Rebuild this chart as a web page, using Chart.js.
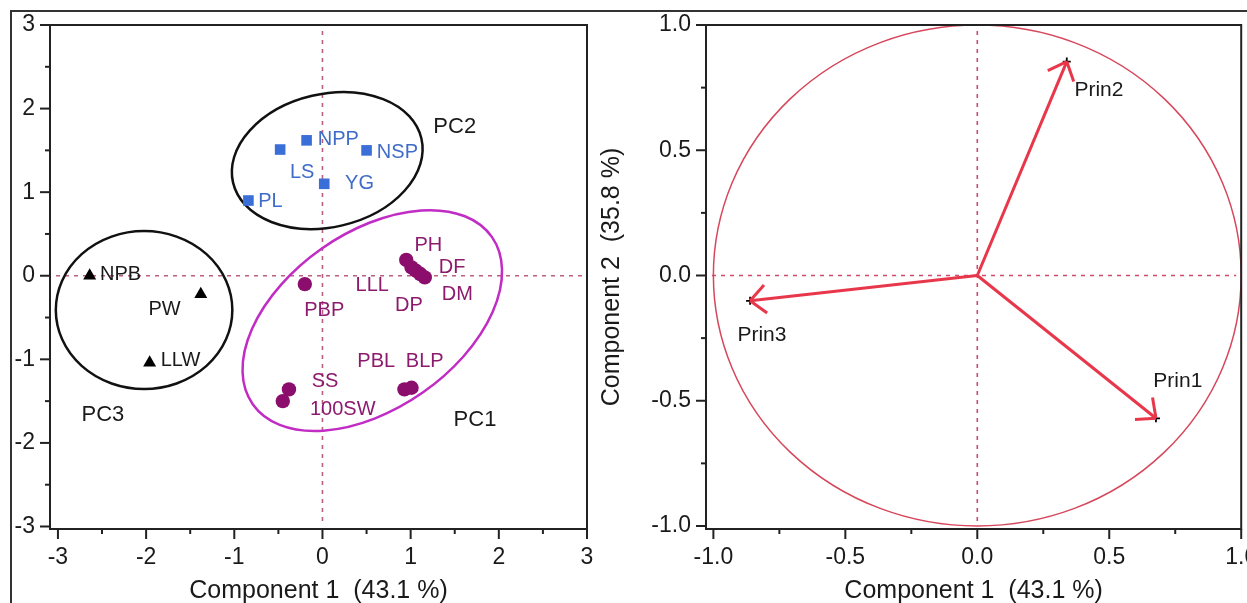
<!DOCTYPE html>
<html><head><meta charset="utf-8">
<script src="https://cdn.jsdelivr.net/npm/chart.js@4.4.0/dist/chart.umd.min.js"></script>
<style>
html,body{margin:0;padding:0;background:#fff;overflow:hidden;width:1247px;height:603px}
#frame{position:absolute;left:10px;top:10px;width:1300px;height:700px;border-left:2px solid #333;border-top:2px solid #333}
#c1{position:absolute;left:0;top:0}
#c2{position:absolute;left:600px;top:0}
</style></head><body>
<div id="frame"></div>
<canvas id="c1" width="600" height="603"></canvas>
<canvas id="c2" width="647" height="603"></canvas>
<script>
const FONT = "'Liberation Sans', Arial, Helvetica, sans-serif";
const INK = '#1a1a1a';

// ---------- Left panel: scores ----------
const pc2Names = ['PL','LS','NPP','NSP','YG'];
const pc2X = [-0.84,-0.48,-0.18,0.50,0.02];
const pc2Y = [0.90,1.51,1.62,1.50,1.10];

const pc3Names = ['NPB','PW','LLW'];
const pc3X = [-2.64,-1.38,-1.96];
const pc3Y = [0.00,-0.22,-1.04];

const pc1Names = ['PBP','PH','LLL','DF','DP','DM','SS','100SW','PBL','BLP'];
const pc1X = [-0.20,0.95,1.01,1.06,1.11,1.16,-0.38,-0.45,0.93,1.01];
const pc1Y = [-0.10,0.19,0.10,0.06,0.02,-0.02,-1.36,-1.50,-1.36,-1.34];

const leftTicks = [-3,-2,-1,0,1,2,3];
const leftMinor = [-2.5,-1.5,-0.5,0.5,1.5,2.5];

// text annotations (data coordinates)
const leftLabelText  = ['NPP','NSP','LS','YG','PL','PC2','NPB','PW','LLW','PC3','PH','DF','DM','LLL','DP','PBP','PBL','BLP','SS','100SW','PC1'];
const leftLabelX     = [0.18,0.85,-0.23,0.42,-0.59,1.50,-2.29,-1.79,-1.61,-2.49,1.20,1.47,1.53,0.565,0.98,0.02,0.61,1.16,0.03,0.23,1.73];
const leftLabelY     = [1.635,1.48,1.24,1.10,0.89,1.78,0.01,-0.40,-1.01,-1.66,0.36,0.10,-0.22,-0.12,-0.36,-0.42,-1.03,-1.03,-1.27,-1.60,-1.72];
const leftLabelGroup = ['b','b','b','b','b','k','k','k','k','k','p','p','p','p','p','p','p','p','p','p','k'];

// group ellipses: centre + two conjugate semi-axis vectors (data units)
const ellipseCenterX = [0.054,-2.023,0.565];
const ellipseCenterY = [1.378,-0.41,-0.536];
const ellipseU = [[1.068,0.264],[1.001,0],[1.356,1.001]];
const ellipseV = [[0.172,-0.775],[0,-0.945],[0.572,-0.862]];
const ellipseColor = ['#111111','#111111','#c02cc4'];

// ---------- Right panel: loadings ----------
const loadNames = ['Prin1','Prin2','Prin3'];
const loadX = [0.677,0.339,-0.861];
const loadY = [-0.570,0.854,-0.101];
const loadLabelX = [0.760,0.461,-0.816];
const loadLabelY = [-0.420,0.739,-0.237];

const rightTicks = [-1,-0.5,0,0.5,1];
const rightMinor = [-0.75,-0.25,0.25,0.75];

// ---------- plugins ----------
const refLines = {
  id:'refLines',
  beforeDatasetsDraw(chart, args, o){
    const {ctx, chartArea:a, scales:{x,y}} = chart;
    ctx.save();
    ctx.strokeStyle = o.color; ctx.lineWidth = 1.6; ctx.setLineDash(o.dash);
    const x0 = x.getPixelForValue(0), y0 = y.getPixelForValue(0);
    ctx.beginPath(); ctx.moveTo(a.left+6, y0); ctx.lineTo(a.right-5, y0); ctx.stroke();
    ctx.beginPath(); ctx.moveTo(x0, a.top+6); ctx.lineTo(x0, a.bottom-4); ctx.stroke();
    ctx.restore();
  }
};

const ellipses = {
  id:'ellipses',
  beforeDatasetsDraw(chart, args, o){
    if(!o.list) return;
    const {ctx, scales:{x,y}} = chart;
    const sx = x.getPixelForValue(1)-x.getPixelForValue(0);
    const sy = y.getPixelForValue(1)-y.getPixelForValue(0);
    o.list.forEach(e=>{
      ctx.save();
      ctx.beginPath();
      ctx.save();
      ctx.transform(e.u[0]*sx, e.u[1]*sy, e.v[0]*sx, e.v[1]*sy, x.getPixelForValue(e.cx), y.getPixelForValue(e.cy));
      ctx.arc(0,0,1,0,Math.PI*2);
      ctx.restore();
      ctx.strokeStyle = e.color; ctx.lineWidth = e.width;
      ctx.stroke();
      ctx.restore();
    });
  }
};

const labels = {
  id:'labels',
  afterDatasetsDraw(chart, args, o){
    if(!o.list) return;
    const {ctx, scales:{x,y}} = chart;
    ctx.save();
    ctx.textAlign='center'; ctx.textBaseline='middle';
    o.list.forEach(l=>{
      ctx.font = l.size+'px '+FONT;
      ctx.fillStyle = l.color;
      ctx.fillText(l.text, x.getPixelForValue(l.x), y.getPixelForValue(l.y));
    });
    ctx.restore();
  }
};

const arrowHeads = {
  id:'arrowHeads',
  afterDatasetsDraw(chart, args, o){
    if(!o.tipsX) return;
    const {ctx, scales:{x,y}} = chart;
    const ox = x.getPixelForValue(0), oy = y.getPixelForValue(0);
    ctx.save();
    ctx.strokeStyle = o.color; ctx.lineWidth = 3; ctx.lineCap='butt';
    o.tipsX.forEach((tx,i)=>{
      const px = x.getPixelForValue(tx), py = y.getPixelForValue(o.tipsY[i]);
      const back = Math.atan2(oy-py, ox-px);
      [-1,1].forEach(s=>{
        const ang = back + s*42*Math.PI/180;
        ctx.beginPath(); ctx.moveTo(px,py);
        ctx.lineTo(px+21*Math.cos(ang), py+21*Math.sin(ang)); ctx.stroke();
      });
    });
    ctx.restore();
  }
};

const unitCircle = {
  id:'unitCircle',
  beforeDatasetsDraw(chart, args, o){
    if(!o.draw) return;
    const {ctx, scales:{x,y}} = chart;
    const cx = x.getPixelForValue(0), cy = y.getPixelForValue(0);
    const rx = x.getPixelForValue(1)-cx, ry = cy - y.getPixelForValue(1);
    ctx.save();
    ctx.strokeStyle = o.color; ctx.lineWidth = 1.5;
    ctx.beginPath(); ctx.ellipse(cx,cy,rx,ry,0,0,Math.PI*2); ctx.stroke();
    ctx.restore();
  }
};

const frameTicks = {
  id:'frameTicks',
  afterDraw(chart, args, o){
    const {ctx, chartArea:a, scales:{x,y}} = chart;
    ctx.save();
    ctx.strokeStyle = '#222'; ctx.lineWidth = 2;
    ctx.strokeRect(a.left, a.top, a.right-a.left, a.bottom-a.top);
    const tick = (vals, len)=>{
      vals.forEach(v=>{
        const p = x.getPixelForValue(v);
        ctx.beginPath(); ctx.moveTo(p, a.bottom); ctx.lineTo(p, a.bottom+len); ctx.stroke();
      });
      vals.forEach(v=>{
        const p = y.getPixelForValue(v);
        ctx.beginPath(); ctx.moveTo(a.left, p); ctx.lineTo(a.left-len, p); ctx.stroke();
      });
    };
    tick(o.major, 10);
    tick(o.minor, 5);
    ctx.restore();
  }
};

function axis(min, max, ticks, fmt, fitFn, title){
  return {
    type:'linear', min, max,
    afterBuildTicks: s => { s.ticks = ticks.map(v=>({value:v})); },
    afterFit: fitFn,
    grid:{display:true, drawOnChartArea:false, drawTicks:true, tickLength:10, tickColor:'rgba(0,0,0,0)'},
    border:{display:false},
    ticks:{font:{family:FONT, size:23}, color:INK, padding:5, maxRotation:0, autoSkip:false, callback: fmt},
    title: title
  };
}

const common = {
  responsive:false, animation:false, devicePixelRatio:1, events:[],
};

// ---------- Left chart ----------
const pts = (xs, ys) => xs.map((v,i)=>({x:v, y:ys[i]}));
const colorFor = {b:'#3f6cc8', p:'#8c1a6e', k:INK};

new Chart(document.getElementById('c1'), {
  type:'scatter',
  data:{datasets:[
    {data:pts(pc2X,pc2Y), pointStyle:'rect', pointRadius:7.5, backgroundColor:'#3b6fd8', borderColor:'#3b6fd8', borderWidth:0},
    {data:pts(pc3X,pc3Y), pointStyle:'triangle', pointRadius:7.5, backgroundColor:'#000', borderColor:'#000', borderWidth:0},
    {data:pts(pc1X,pc1Y), pointStyle:'circle', pointRadius:7.2, backgroundColor:'#8b0d6c', borderColor:'#8b0d6c', borderWidth:0}
  ]},
  options:{...common,
    layout:{padding:{left:0, top:25, right:13, bottom:0}},
    scales:{
      x: axis(-3.09, 3, leftTicks, v=>String(v), s=>{s.height=74; s.paddingLeft=0; s.paddingRight=0;},
         {display:true, text:'Component 1  (43.1 %)', color:INK, font:{family:FONT, size:25, lineHeight:1}, padding:{top:0,bottom:-1}}),
      y: axis(-3.03, 3, leftTicks, v=>String(v), s=>{s.width=50; s.paddingTop=0; s.paddingBottom=0;}, {display:false})
    },
    plugins:{legend:{display:false}, tooltip:{enabled:false},
      refLines:{color:'#bb5f80', dash:[4,5]},
      ellipses:{list: ellipseCenterX.map((cx,i)=>({cx, cy:ellipseCenterY[i], u:ellipseU[i], v:ellipseV[i], color:ellipseColor[i], width:2.5}))},
      labels:{list: leftLabelText.map((t,i)=>({text:t, x:leftLabelX[i], y:leftLabelY[i], color:colorFor[leftLabelGroup[i]], size: t.startsWith('PC') ? 22 : 20}))},
      frameTicks:{major:leftTicks, minor:leftMinor}
    }
  },
  plugins:[refLines, ellipses, labels, frameTicks]
});

// ---------- Right chart ----------
const RED = '#e8374b';
new Chart(document.getElementById('c2'), {
  type:'scatter',
  data:{datasets:[
    ...loadX.map((lx,i)=>({data:[{x:0,y:0},{x:lx,y:loadY[i]}], showLine:true, borderColor:RED, borderWidth:3, pointRadius:0})),
    {data:pts(loadX,loadY), pointStyle:'cross', pointRadius:4, borderColor:'#000', borderWidth:1.8}
  ]},
  options:{...common,
    layout:{padding:{left:0, top:25, right:5, bottom:0}},
    scales:{
      x: axis(-1.028, 1, rightTicks, v=>v.toFixed(1), s=>{s.height=74; s.paddingLeft=0; s.paddingRight=0;},
         {display:true, text:'Component 1  (43.1 %)', color:INK, font:{family:FONT, size:25, lineHeight:1}, padding:{top:0,bottom:-1}}),
      y: axis(-1.012, 1, rightTicks, v=>v.toFixed(1), s=>{s.width=106; s.paddingTop=0; s.paddingBottom=0;},
         {display:true, text:'Component 2  (35.8 %)', color:INK, font:{family:FONT, size:25, lineHeight:1}, padding:{top:0,bottom:0}})
    },
    plugins:{legend:{display:false}, tooltip:{enabled:false},
      refLines:{color:'#d04a6c', dash:[4,5]},
      unitCircle:{draw:true, color:'#d6475b'},
      arrowHeads:{tipsX:loadX, tipsY:loadY, color:RED},
      labels:{list: loadNames.map((t,i)=>({text:t, x:loadLabelX[i], y:loadLabelY[i], color:INK, size:21}))},
      frameTicks:{major:rightTicks, minor:rightMinor}
    }
  },
  plugins:[refLines, unitCircle, arrowHeads, labels, frameTicks]
});
</script>
</body></html>
